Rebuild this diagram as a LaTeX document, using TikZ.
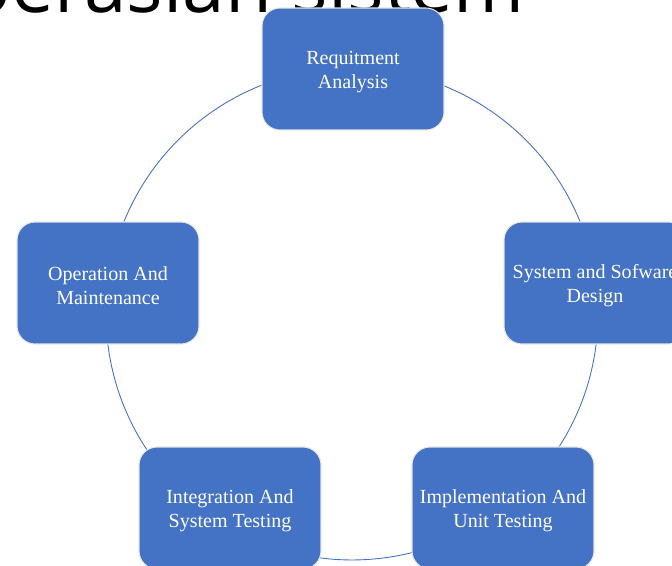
\documentclass[tikz,border=0pt]{standalone}
\usepackage{fontspec}
\setmainfont{Liberation Serif}
\newfontfamily\titlefont{Open Sans}
\usetikzlibrary{positioning}
\definecolor{stageblue}{HTML}{4472C4}

\begin{document}
\begin{tikzpicture}[x=0.02cm,y=-0.02cm,
		stage/.style={draw=white!80!gray,line width=0.6pt,fill=stageblue,rounded corners=0.36cm,minimum width=3.64cm,minimum height=2.44cm,text=white,align=center,text height=24.4pt,font=\fontsize{11.4}{13.6}\selectfont}]
	\useasboundingbox (0,0) rectangle (672,565);
	\clip (0,0) rectangle (672,565);

	\node[anchor=base west,inner sep=0pt,font=\titlefont\fontsize{43.5}{50}\selectfont] (title) at (-95,12) {Operasian sistem};

	% cycle behind the stages
	\coordinate (hub) at (352,314);
	\draw[stageblue,line width=0.5pt] (hub) circle (4.92cm);

	\node[stage] (req) at (353,69) {Requitment\\Analysis};
	\node[stage] (design) at (595,283) {System and Sofware\\Design};
	\node[stage] (impl) at (503,508) {Implementation And\\Unit Testing};
	\node[stage] (integ) at (230,508) {Integration And\\System Testing};
	\node[stage] (oper) at (108,283) {Operation And\\Maintenance};
\end{tikzpicture}
\end{document}
